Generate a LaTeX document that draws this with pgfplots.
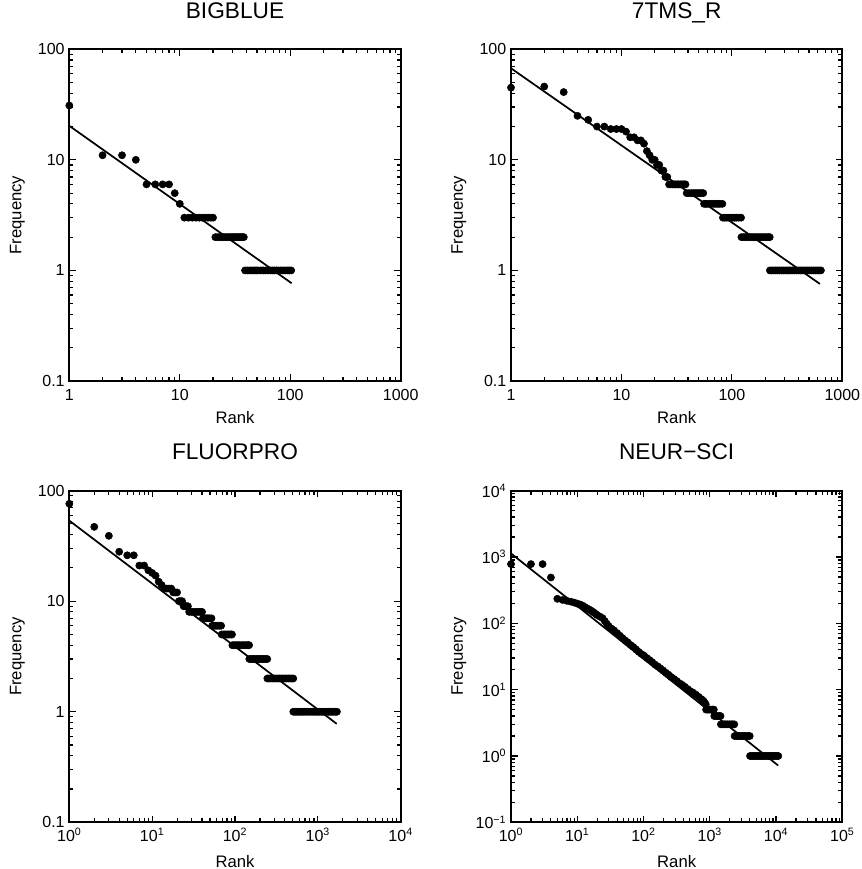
\documentclass[border=0pt]{standalone}
\usepackage{fontspec}
\setmainfont{Liberation Sans}
\usepackage{pgfplots}
\pgfplotsset{compat=1.18}

\pgfplotsset{
  zipfaxis/.style={
    scale only axis,
    width=248.5pt, height=248.8pt,
    axis line style={line width=1.5pt},
    every tick/.style={black, line width=0.9pt},
    major tick length=5pt, minor tick length=3pt,
    tick label style={font=\fontsize{12}{14}\selectfont},
    label style={font=\fontsize{12.5}{15}\selectfont},
    title style={font=\fontsize{17}{20}\selectfont, at={(0.5,1)}, anchor=base, yshift=17pt},
    xlabel=Rank, ylabel=Frequency,
    xlabel style={at={(axis description cs:0.5,-0.127)}, anchor=base},
    ylabel style={at={(axis description cs:-0.157,0.5)}, anchor=center},
  },
  zipftop/.style={
    xticklabel style={yshift=-2.5pt},
  },
  zipfbot/.style={
    xlabel style={at={(axis description cs:0.5,-0.135)}},
    xticklabel style={yshift=-1pt},
  },
  zipfpts/.style={only marks, mark=*, mark size=2.7pt, black},
  zipffit/.style={black, line width=1.3pt, mark=none},
}

\begin{document}
\begin{tikzpicture}
\path[use as bounding box] (0,0) rectangle (646.5pt,651.75pt);

% BIGBLUE
\begin{loglogaxis}[zipfaxis, zipftop, at={(52pt,366pt)}, anchor=south west,
  title={BIGBLUE},
  xmin=1, xmax=1000, ymin=0.1, ymax=100,
  xtick={1,10,100,1000}, xticklabels={1,10,100,1000},
  ytick={0.1,1,10,100}, yticklabels={0.1,1,10,100}]
\addplot[zipfpts] coordinates {
(1,31)(2,11)(3,11)(4,10)(5,6)(6,6)(7,6)(8,6)(9,5)(10,4)
(11,3)(12,3)(13,3)(14,3)(15,3)(16,3)(17,3)(18,3)(19,3)(20,3)
(21,2)(22,2)(23,2)(24,2)(25,2)(26,2)(27,2)(28,2)(29,2)(30,2)
(31,2)(32,2)(33,2)(34,2)(35,2)(36,2)(37,2)(38,2)
(39,1)(41,1)(43,1)(45,1)(47,1)(49,1)(51,1)(54,1)(57,1)(60,1)
(63,1)(66,1)(69,1)(72,1)(75,1)(78,1)(82,1)(86,1)(90,1)(94,1)(98,1)(102,1)
};
\addplot[zipffit] coordinates {(1,20.3)(103,0.766)};
\end{loglogaxis}

% 7TMS_R
\begin{loglogaxis}[zipfaxis, zipftop, at={(383.25pt,366pt)}, anchor=south west,
  title={7TMS\_R},
  xmin=1, xmax=1000, ymin=0.1, ymax=100,
  xtick={1,10,100,1000}, xticklabels={1,10,100,1000},
  ytick={0.1,1,10,100}, yticklabels={0.1,1,10,100}]
\addplot[zipfpts] coordinates {
(1,45)(2,46)(3,41)(4,25)(5,23)(6,20)(7,20)(8,19)(9,19)(10,19)
(11,18)(12,16)(13,16)(14,15)(15,15)(16,14)(17,12)(18,11)(19,10)(20,10)
(21,9)(22,9)(23,8)(24,8)(25,7)(26,7)
(27,6)(28,6)(29,6)(30,6)(31,6)(32,6)(33,6)(34,6)(35,6)(36,6)(37,6)(38,6)
(39,5)(41,5)(43,5)(45,5)(47,5)(49,5)(51,5)(53,5)(55,5)
(56,4)(58,4)(60,4)(63,4)(66,4)(69,4)(72,4)(75,4)(78,4)(82,4)
(83,3)(86,3)(90,3)(94,3)(98,3)(102,3)(106,3)(110,3)(115,3)(121,3)
(122,2)(127,2)(132,2)(137,2)(143,2)(149,2)(155,2)(161,2)(168,2)(175,2)
(182,2)(189,2)(197,2)(205,2)(213,2)(220,2)
(221,1)(230,1)(239,1)(249,1)(259,1)(269,1)(280,1)(291,1)(303,1)(315,1)
(328,1)(341,1)(355,1)(369,1)(384,1)(399,1)(415,1)(432,1)(449,1)(467,1)
(486,1)(505,1)(525,1)(546,1)(568,1)(591,1)(615,1)(640,1)
};
\addplot[zipffit] coordinates {(1,67.3)(627,0.755)};
\end{loglogaxis}

% FLUORPRO
\begin{loglogaxis}[zipfaxis, zipfbot, at={(52pt,35pt)}, anchor=south west,
  title={FLUORPRO},
  xmin=1, xmax=10000, ymin=0.1, ymax=100,
  xtick={1,10,100,1000,10000},
  xticklabels={10\textsuperscript{0},10\textsuperscript{1},10\textsuperscript{2},10\textsuperscript{3},10\textsuperscript{4}},
  ytick={0.1,1,10,100}, yticklabels={0.1,1,10,100}]
\addplot[zipfpts] coordinates {
(1,76)(2,47)(3,39)(4,28)(5,26)(6,26)(7,21)(8,21)(9,19)(10,18)
(11,17)(12,15)(13,14)(14,13)(15,13)(16,13)(17,13)(18,12)(19,12)(20,12)
(21,10)(22,10)(23,10)(24,9)(25,9)(26,9)(27,9)
(28,8)(30,8)(32,8)(34,8)(36,8)(38,8)(40,8)
(41,7)(43,7)(45,7)(47,7)(49,7)(52,7)
(53,6)(56,6)(59,6)(62,6)(65,6)(68,6)
(69,5)(72,5)(75,5)(78,5)(81,5)(84,5)(87,5)(90,5)(92,5)
(93,4)(98,4)(103,4)(108,4)(113,4)(119,4)(125,4)(131,4)(138,4)(144,4)(148,4)
(149,3)(157,3)(165,3)(173,3)(182,3)(191,3)(200,3)(210,3)(221,3)(232,3)(245,3)
(246,2)(258,2)(271,2)(285,2)(299,2)(314,2)(330,2)(347,2)(364,2)(382,2)
(401,2)(421,2)(442,2)(464,2)(487,2)(505,2)
(506,1)(531,1)(558,1)(586,1)(615,1)(646,1)(678,1)(712,1)(748,1)(785,1)
(824,1)(865,1)(909,1)(954,1)(1002,1)(1052,1)(1105,1)(1160,1)(1218,1)(1279,1)
(1343,1)(1410,1)(1481,1)(1555,1)(1633,1)(1700,1)
};
\addplot[zipffit] coordinates {(1,53.5)(1690,0.778)};
\end{loglogaxis}

% NEUR-SCI
\begin{loglogaxis}[zipfaxis, zipfbot, at={(383.25pt,35pt)}, anchor=south west,
  title={NEUR−SCI},
  xmin=1, xmax=100000, ymin=0.1, ymax=10000,
  xtick={1,10,100,1000,10000,100000},
  xticklabels={10\textsuperscript{0},10\textsuperscript{1},10\textsuperscript{2},10\textsuperscript{3},10\textsuperscript{4},10\textsuperscript{5}},
  ytick={0.1,1,10,100,1000,10000},
  yticklabels={10\textsuperscript{−1},10\textsuperscript{0},10\textsuperscript{1},10\textsuperscript{2},10\textsuperscript{3},10\textsuperscript{4}}]
\addplot[zipfpts] coordinates {
(1,780)(2,780)(3,780)(4,490)(5,234)(6,225)(7,218)(8,212)(9,205)(10,198)
(11,192)(12,185)(13,176)(14,168)(15,162)(16,156)(17,150)(18,144)(19,138)(20,133)
(22,126)(24,120)(26,108)(28,98)(30,90)(33,83)(36,78)(40,71)(44,65)(48,60)
(53,55)(58,51.5)(64,47)(70,44)(77,40.5)(85,37)(93,34.5)(102,32.5)(112,30)(123,28)
(135,26)(148,24)(163,22.5)(179,21)(197,19.5)(217,18)(238,16.8)(262,15.5)(288,14.5)(317,13.5)
(349,12.5)(384,11.8)(422,11)(464,10.2)(510,9.5)(561,9)(617,8.4)(679,7.8)(747,7.2)(800,6.8)
(840,6.3)(870,6)
(880,5)(930,5)(985,5)(1045,5)(1110,5)(1150,5)
(1170,4)(1240,4)(1310,4)(1390,4)(1450,4)
(1470,3)(1560,3)(1650,3)(1750,3)(1860,3)(1970,3)(2090,3)(2210,3)(2340,3)
(2370,2)(2510,2)(2660,2)(2820,2)(2990,2)(3170,2)(3360,2)(3560,2)(3780,2)(4000,2)
(4050,1)(4290,1)(4550,1)(4820,1)(5110,1)(5420,1)(5740,1)(6090,1)(6450,1)(6840,1)
(7250,1)(7680,1)(8140,1)(8630,1)(9150,1)(9700,1)(10280,1)(10800,1)
};
\addplot[zipffit] coordinates {(1,1130)(10770,0.718)};
\end{loglogaxis}
\end{tikzpicture}
\end{document}
